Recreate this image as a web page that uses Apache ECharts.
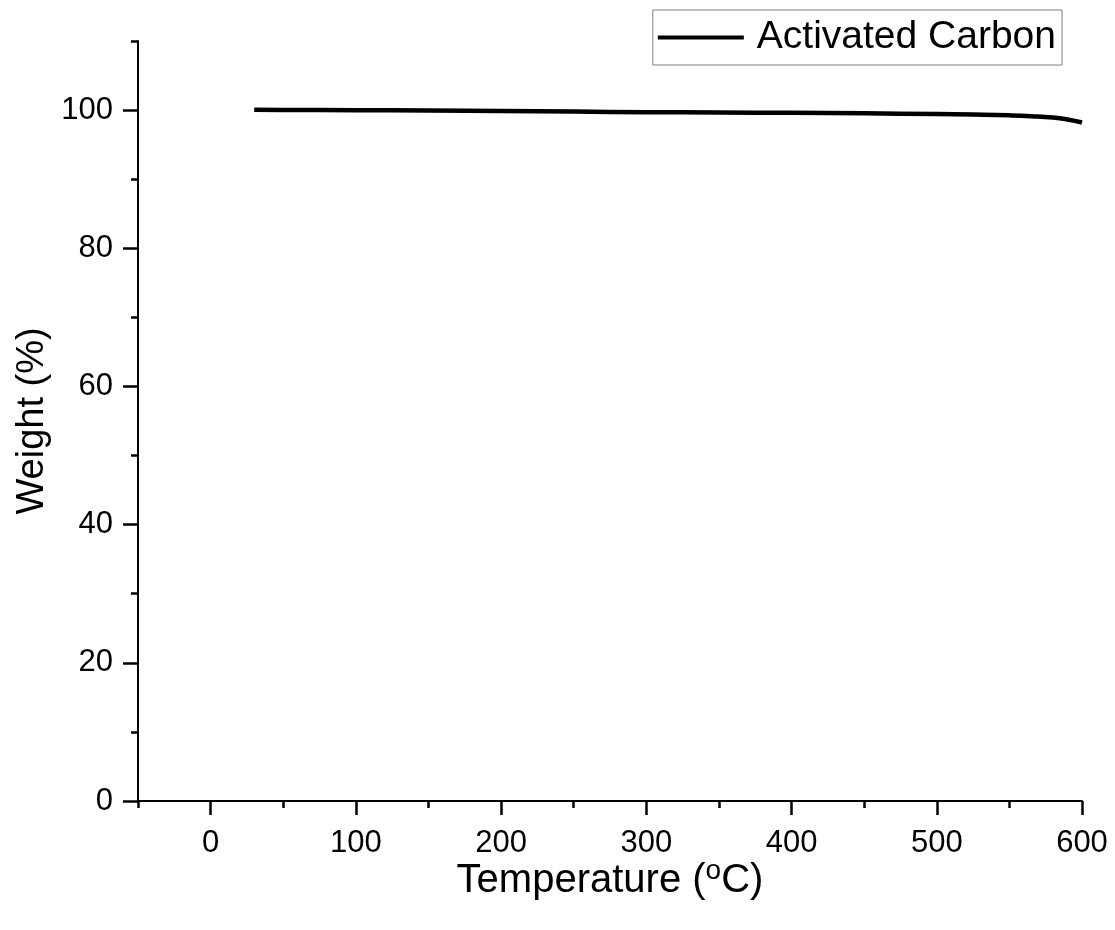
<!DOCTYPE html>
<html>
<head>
<meta charset="utf-8">
<script src="https://cdn.jsdelivr.net/npm/echarts@6/dist/echarts.min.js"></script>
<style>
html,body{margin:0;padding:0;background:#fff;}
#chart{width:1115px;height:930px;}
</style>
</head>
<body>
<div id="chart"></div>
<script>
// Data
const temperature = [30, 50, 100, 150, 200, 250, 300, 350, 400, 450, 500, 525, 550, 565, 580, 590, 600];
const weight = [100.05, 100.02, 99.98, 99.94, 99.86, 99.78, 99.70, 99.65, 99.60, 99.53, 99.43, 99.35, 99.24, 99.12, 98.92, 98.64, 98.2];
const seriesName = 'Activated Carbon';
const xMajorTicks = [0, 100, 200, 300, 400, 500, 600];
const xMinorTicks = [-50, 50, 150, 250, 350, 450, 550];
const yMajorTicks = [0, 20, 40, 60, 80, 100];
const yMinorTicks = [10, 30, 50, 70, 90, 110];

const FONT = 'Liberation Sans, Arial, sans-serif';
const chart = echarts.init(document.getElementById('chart'), null, {renderer: 'canvas'});

const baseX = {type: 'value', min: -50, max: 600, position: 'bottom', splitLine: {show: false}};
const baseY = {type: 'value', min: 0, max: 110, position: 'left', splitLine: {show: false}};

chart.setOption({
  animation: false,
  backgroundColor: '#fff',
  grid: {left: 138, right: 33, top: 41, bottom: 129, containLabel: false},
  legend: {
    data: [{name: seriesName, icon: 'rect'}],
    right: 53, top: 10,
    padding: [8, 6, 8, 5],
    borderColor: '#808080', borderWidth: 1,
    itemWidth: 86, itemHeight: 4,
    itemStyle: {color: '#000'},
    textStyle: {fontFamily: FONT, fontSize: 39, color: '#000', padding: [0, 0, 0, 8]}
  },
  xAxis: [
    Object.assign({}, baseX, {
      name: 'Temperature ({sup|o}C)',
      nameLocation: 'middle', nameGap: 56, nameMoveOverlap: false,
      nameTextStyle: {fontFamily: FONT, fontSize: 40, color: '#000',
        rich: {sup: {fontFamily: FONT, fontSize: 28, color: '#000', verticalAlign: 'top', padding: [0, 0, 20, 0]}}},
      axisLine: {show: true, onZero: false, lineStyle: {color: '#000', width: 2}},
      axisTick: {show: true, inside: false, length: 14, lineStyle: {color: '#000', width: 2.5}, customValues: xMajorTicks},
      axisLabel: {show: true, margin: 27, fontFamily: FONT, fontSize: 31, color: '#000', customValues: xMajorTicks}
    }),
    Object.assign({}, baseX, {
      axisLine: {show: false, onZero: false},
      axisTick: {show: true, inside: false, length: 7, lineStyle: {color: '#000', width: 2.5}, customValues: xMinorTicks},
      axisLabel: {show: false}
    })
  ],
  yAxis: [
    Object.assign({}, baseY, {
      name: 'Weight (%)',
      nameLocation: 'middle', nameGap: 86, nameMoveOverlap: false,
      nameTextStyle: {fontFamily: FONT, fontSize: 38, color: '#000'},
      axisLine: {show: true, onZero: false, lineStyle: {color: '#000', width: 2}},
      axisTick: {show: true, inside: false, length: 15, lineStyle: {color: '#000', width: 2.5}, customValues: yMajorTicks},
      axisLabel: {show: true, margin: 25, fontFamily: FONT, fontSize: 31, color: '#000', customValues: yMajorTicks}
    }),
    Object.assign({}, baseY, {
      axisLine: {show: false, onZero: false},
      axisTick: {show: true, inside: false, length: 7, lineStyle: {color: '#000', width: 2.5}, customValues: yMinorTicks},
      axisLabel: {show: false}
    })
  ],
  series: [{
    name: seriesName,
    type: 'line',
    xAxisIndex: 0, yAxisIndex: 0,
    data: temperature.map((t, i) => [t, weight[i]]),
    smooth: true,
    showSymbol: false,
    symbol: 'none',
    color: '#000',
    lineStyle: {color: '#000', width: 4.5}
  }]
});
</script>
</body>
</html>
